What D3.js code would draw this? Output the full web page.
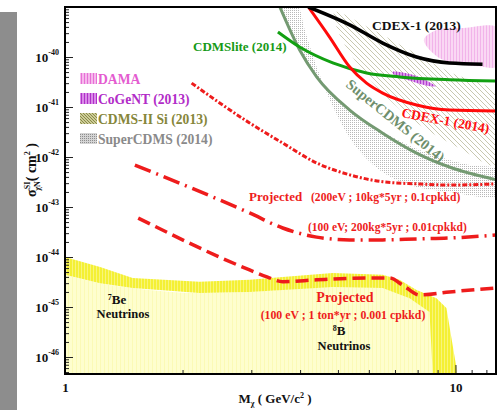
<!DOCTYPE html>
<html>
<head>
<meta charset="utf-8">
<script src="https://cdn.jsdelivr.net/npm/d3@7"></script>
<style>
  body { margin: 0; background: #fff; }
  text { font-family: "Liberation Serif", "DejaVu Serif", serif; font-weight: bold; }
</style>
</head>
<body>
<svg id="chart" width="500" height="410"></svg>
<script>
// WIMP mass (GeV/c^2) and spin-independent cross section (cm^2)
const cdex2013 = [[4.2, 1.0e-39], [5.36, 4.4e-40], [6.51, 1.9e-40], [7.95, 1.0e-40], [9.65, 7.6e-41], [11.73, 7.2e-41]];
const cdex2014 = [[4.2, 1.0e-39], [4.76, 2.5e-40], [5.36, 6.3e-41], [5.92, 3.0e-41], [6.51, 1.9e-41], [7.95, 1.1e-41], [9.65, 8.7e-42], [12.73, 8.3e-42]];
const cdmslite2014 = [[3.51, 3.16e-40], [3.99, 1.58e-40], [4.85, 7.6e-41], [5.92, 4.8e-41], [7.19, 4.0e-41], [9.65, 3.5e-41], [12.73, 3.3e-41]];
const supercdms2014 = [[3.55, 1.0e-39], [3.99, 1.38e-40], [4.41, 4.0e-41], [5.36, 8.7e-42], [6.51, 3.0e-42], [7.95, 1.2e-42], [9.65, 6.3e-43], [12.73, 3.5e-43]];
const proj200eV = [[2.11, 3.0e-41], [2.97, 4.8e-42], [3.61, 1.9e-42], [4.41, 7.6e-43], [5.36, 4.4e-43], [6.51, 3.2e-43], [7.95, 2.9e-43], [9.65, 2.75e-43], [12.73, 2.9e-43]];
const proj100eV200kg = [[1.51, 6.9e-43], [2.97, 7.6e-44], [3.61, 3.8e-44], [4.41, 2.5e-44], [5.36, 2.2e-44], [6.51, 2.2e-44], [7.95, 2.3e-44], [9.65, 2.4e-44], [12.73, 2.75e-44]];
const proj100eV1ton = [[1.54, 6.0e-44], [2.97, 5.5e-45], [3.29, 4.0e-45], [3.61, 3.2e-45], [4.41, 3.5e-45], [5.92, 3.8e-45], [6.78, 3.8e-45], [7.32, 2.75e-45], [8.09, 1.74e-45], [9.65, 2.0e-45], [12.73, 2.4e-45]];

// neutrino background band: upper and lower edges
const nuUpper = [[1.0, 1.0e-44], [1.23, 6.3e-45], [1.49, 3.8e-45], [2.21, 3.2e-45], [2.97, 3.5e-45], [3.61, 4.0e-45], [4.85, 4.8e-45], [6.51, 4.4e-45], [7.19, 3.5e-45], [7.95, 2.2e-45], [8.94, 1.5e-45], [9.48, 9.5e-46], [10.06, 6.0e-47], [10.2, 2.0e-47]];
const nuLower = [[1.0, 4.4e-45], [1.23, 3.0e-45], [1.49, 2.4e-45], [2.21, 1.9e-45], [2.97, 2.0e-45], [4.85, 2.5e-45], [6.51, 2.4e-45], [7.63, 1.5e-45], [8.58, 7.9e-46], [8.73, 6.0e-47], [8.76, 2.0e-47]];

// signal regions (closed outlines)
const damaRegion = [[8.3, 2.2e-40], [9.0, 3.5e-40], [10.5, 3.8e-40], [12.8, 3.8e-40], [12.8, 6.5e-41], [11.5, 6.5e-41], [10.0, 7.5e-41], [9.0, 1.0e-40]];
const cogentRegion = [[6.9, 5.0e-41], [7.6, 4.6e-41], [8.3, 3.6e-41], [8.9, 2.6e-41], [8.4, 2.7e-41], [7.6, 3.4e-41], [7.0, 4.2e-41]];
const cdms2SiRegion = [[4.90, 7.9e-40], [6.03, 3.8e-40], [7.63, 1.38e-40], [9.65, 5.0e-41], [12.8, 1.74e-41], [12.8, 6.9e-43], [10.24, 1.5e-42], [8.09, 4.4e-42], [6.58, 1.74e-41], [5.52, 8.7e-41], [4.99, 3.5e-40]];
const supercdmsRegion = [[3.59, 1.0e-39], [3.94, 1.74e-40], [4.36, 4.4e-41], [5.20, 1.1e-41], [6.39, 3.5e-42], [8.09, 1.38e-42], [10.86, 6.9e-43], [12.8, 5.5e-43], [12.8, 1.74e-43], [9.65, 2.0e-43], [7.63, 2.75e-43], [6.39, 5.5e-43], [5.52, 1.74e-42], [4.90, 8.7e-42], [4.44, 5.5e-41], [4.11, 3.5e-40], [3.94, 1.0e-39]];

// axis ticks
const yMajorExp = [-46, -45, -44, -43, -42, -41, -40];
const xMajor = [1, 10];
const legendNames = ["DAMA", "CoGeNT (2013)", "CDMS-II Si (2013)", "SuperCDMS (2014)"];

const svg = d3.select("#chart");
const L = 65, R = 496, T = 7, B = 374;
const x = d3.scaleLog().domain([1, 12.7]).range([L, R]);
const y = d3.scaleLog().domain([Math.pow(10, -46.34), 1e-39]).range([B, T]);

// side strip
svg.append("rect").attr("x", 0).attr("y", 12).attr("width", 17).attr("height", 398).attr("fill", "#8d8d8d");

const defs = svg.append("defs");
defs.append("clipPath").attr("id", "plot").append("rect")
  .attr("x", L).attr("y", T).attr("width", R - L).attr("height", B - T);

function pattern(id, w, h, bg, draw) {
  const p = defs.append("pattern").attr("id", id).attr("patternUnits", "userSpaceOnUse")
    .attr("width", w).attr("height", h);
  if (bg) p.append("rect").attr("width", w).attr("height", h).attr("fill", bg);
  draw(p);
}
pattern("pDama", 3, 3, "#fad8f4", p => p.append("rect").attr("width", 1).attr("height", 3).attr("fill", "#f2b4ea"));
pattern("pCogent", 3, 3, "#dc96ea", p => p.append("rect").attr("width", 1).attr("height", 3).attr("fill", "#b040d0"));
pattern("pHatch", 5, 5, null, p => p.append("path").attr("d", "M-1,-1 L6,6 M-1,4 L1,6 M4,-1 L6,1").attr("stroke", "#c8c8b0").attr("stroke-width", 1));
pattern("pDots", 2, 2, null, p => p.append("rect").attr("width", 1).attr("height", 1).attr("fill", "#b8b8b8"));
pattern("pBand", 3, 3, "#f4f034", p => p.append("rect").attr("width", 1).attr("height", 3).attr("fill", "#f8f57a"));
pattern("pPale", 4, 4, "#fefece", p => p.append("rect").attr("width", 1).attr("height", 4).attr("fill", "#fbfab6"));
pattern("lDama", 3, 3, "#f6b8ec", p => p.append("rect").attr("width", 1).attr("height", 3).attr("fill", "#e670d6"));
pattern("lCogent", 3, 3, "#d98ae8", p => p.append("rect").attr("width", 1).attr("height", 3).attr("fill", "#b030c8"));
pattern("lCdms", 3, 3, "#cccc98", p => p.append("path").attr("d", "M-1,-1 L4,4 M-1,2 L1,4 M2,-1 L4,1").attr("stroke", "#8a8a48").attr("stroke-width", 1));
pattern("lSuper", 2, 2, "#d4d4d4", p => p.append("rect").attr("width", 1).attr("height", 1).attr("fill", "#8e8e8e"));

const g = svg.append("g").attr("clip-path", "url(#plot)");
const line = d3.line().x(d => x(d[0])).y(d => y(d[1])).curve(d3.curveMonotoneX);
const closed = d3.line().x(d => x(d[0])).y(d => y(d[1])).curve(d3.curveCatmullRomClosed.alpha(0.5));

// neutrino floor
const paleArea = d3.area().x(d => x(d[0])).y0(B + 5).y1(d => y(d[1])).curve(d3.curveMonotoneX);
g.append("path").attr("d", paleArea(nuLower)).attr("fill", "url(#pPale)");
const bandPts = nuUpper.concat(nuLower.slice().reverse());
g.append("path").attr("d", d3.line().x(d => x(d[0])).y(d => y(d[1])).curve(d3.curveLinear)(bandPts) + "Z")
  .attr("fill", "url(#pBand)");

// signal regions
g.append("path").attr("d", closed(supercdmsRegion)).attr("fill", "url(#pDots)");
g.append("path").attr("d", closed(cdms2SiRegion)).attr("fill", "url(#pHatch)");
g.append("path").attr("d", closed(damaRegion)).attr("fill", "url(#pDama)");
g.append("path").attr("d", closed(cogentRegion)).attr("fill", "url(#pCogent)");

// projected sensitivities
const red = "#ee1c1c";
g.append("path").attr("d", line(proj200eV)).attr("fill", "none").attr("stroke", red)
  .attr("stroke-width", 3).attr("stroke-dasharray", "5,2,2,2");
g.append("path").attr("d", line(proj100eV200kg)).attr("fill", "none").attr("stroke", red)
  .attr("stroke-width", 3.5).attr("stroke-dasharray", "17,6,2,6");
g.append("path").attr("d", line(proj100eV1ton)).attr("fill", "none").attr("stroke", red)
  .attr("stroke-width", 3.5).attr("stroke-dasharray", "13,6");

// exclusion limits
g.append("path").attr("d", line(supercdms2014)).attr("fill", "none").attr("stroke", "#749a72").attr("stroke-width", 3);
g.append("path").attr("d", line(cdmslite2014)).attr("fill", "none").attr("stroke", "#12a012").attr("stroke-width", 3);
g.append("path").attr("d", line(cdex2014)).attr("fill", "none").attr("stroke", "#ff0a0a").attr("stroke-width", 3);
g.append("path").attr("d", line(cdex2013)).attr("fill", "none").attr("stroke", "#000").attr("stroke-width", 3.5);

// annotations
function label(txt, px, py, size, color, anchor, rot) {
  const t = svg.append("text").attr("x", px).attr("y", py).attr("font-size", size)
    .attr("fill", color).attr("text-anchor", anchor || "start").text(txt);
  if (rot) t.attr("transform", `rotate(${rot},${px},${py})`);
  return t;
}
label("CDEX-1 (2013)", 372, 30, 13.5, "#111");
label("CDMSlite (2014)", 193, 51, 13, "#169a16");
label("CDEX-1 (2014)", 401, 117, 13.5, "#ff1010", "start", 10.5);
label("SuperCDMS (2014)", 345, 86, 14.5, "#6f8f6c", "start", 39).attr("font-weight", "normal");
label("Projected", 249, 201, 13, red);
label("(200eV ; 10kg*5yr ; 0.1cpkkd)", 311, 201, 11.6, red);
label("(100 eV; 200kg*5yr ; 0.01cpkkd)", 308, 231, 11.5, red);
label("Projected", 345, 302, 14, red, "middle");
label("(100 eV ; 1 ton*yr ; 0.001 cpkkd)", 343, 319, 11.8, red, "middle");
const b8 = label("", 339, 335, 13, "#111", "middle");
b8.append("tspan").attr("font-size", 8).attr("dy", -4).text("8");
b8.append("tspan").attr("dy", 4).text("B");
label("Neutrinos", 344, 350, 12.5, "#111", "middle");
const be7 = label("", 117, 304, 13, "#111", "middle");
be7.append("tspan").attr("font-size", 8).attr("dy", -4).text("7");
be7.append("tspan").attr("dy", 4).text("Be");
label("Neutrinos", 123, 318, 12.5, "#111", "middle");

// legend
const legendFill = ["url(#lDama)", "url(#lCogent)", "url(#lCdms)", "url(#lSuper)"];
const legendColor = ["#e45cd0", "#b22cc8", "#86863a", "#8a8a8a"];
legendNames.forEach((n, i) => {
  const ly = 79 + i * 20;
  svg.append("rect").attr("x", 80).attr("y", ly - 6).attr("width", 17).attr("height", 11).attr("fill", legendFill[i]);
  label(n, 98, ly + 4.5, 13.6, legendColor[i]);
});

// axes
const yMajor = yMajorExp.map(e => Math.pow(10, e));
const yMinor = [];
for (let e = -47; e < -39; e++) for (let k = 2; k <= 9; k++) {
  const v = k * Math.pow(10, e);
  if (v >= y.domain()[0] && v <= 1e-39) yMinor.push(v);
}
const xMinor = [2, 3, 4, 5, 6, 7, 8, 9, 11, 12];

svg.append("g").attr("transform", `translate(${L},0)`)
  .call(d3.axisLeft(y).tickValues(yMinor).tickSize(-4).tickFormat(() => ""))
  .call(a => a.select(".domain").remove()).selectAll("line").attr("stroke", "#222");
const ya = svg.append("g").attr("transform", `translate(${L},0)`)
  .call(d3.axisLeft(y).tickValues(yMajor).tickSize(-8).tickFormat(() => ""));
ya.select(".domain").remove();
ya.selectAll("line").attr("stroke", "#222");
ya.selectAll(".tick").each(function(d) {
  const t = d3.select(this).append("text").attr("x", -6).attr("dy", "0.35em").attr("fill", "#111")
    .attr("text-anchor", "end").attr("font-size", 13);
  t.append("tspan").text("10");
  t.append("tspan").attr("font-size", 8).attr("dy", "-0.9em").text(String(Math.round(Math.log10(d))));
});

svg.append("g").attr("transform", `translate(0,${B})`)
  .call(d3.axisBottom(x).tickValues(xMinor).tickSize(-4).tickFormat(() => ""))
  .call(a => a.select(".domain").remove()).selectAll("line").attr("stroke", "#222");
const xa = svg.append("g").attr("transform", `translate(0,${B})`)
  .call(d3.axisBottom(x).tickValues(xMajor).tickSize(-9).tickFormat(d3.format("d")));
xa.select(".domain").remove();
xa.selectAll("line").attr("stroke", "#222");
xa.selectAll("text").attr("font-size", 13).attr("fill", "#111").attr("y", 9).attr("dy", "0.71em")
  .attr("font-family", "Liberation Serif, serif").attr("font-weight", "bold");

// frame
svg.append("rect").attr("x", L).attr("y", T).attr("width", R - L).attr("height", B - T)
  .attr("fill", "none").attr("stroke", "#000").attr("stroke-width", 2);

// axis titles
const xt = label("", 275, 403, 13, "#111", "middle");
xt.append("tspan").text("M");
xt.append("tspan").attr("font-size", 8).attr("dy", 3).text("\u03c7");
xt.append("tspan").attr("dy", -3).text(" ( GeV/c");
xt.append("tspan").attr("font-size", 8).attr("dy", -5).text("2");
xt.append("tspan").attr("dy", 5).text(" )");

const yt = svg.append("text").attr("transform", "translate(36,170) rotate(-90)")
  .attr("text-anchor", "middle").attr("font-size", 14).attr("fill", "#111");
yt.append("tspan").text("\u03c3");
yt.append("tspan").attr("font-size", 8).attr("dy", -6).text("SI");
yt.append("tspan").attr("font-size", 8).attr("dx", -9).attr("dy", 10).text("\u03c7N");
yt.append("tspan").attr("dy", -4).text("( cm");
yt.append("tspan").attr("font-size", 8).attr("dy", -6).text("2");
yt.append("tspan").attr("dy", 6).text(" )");
</script>
</body>
</html>
